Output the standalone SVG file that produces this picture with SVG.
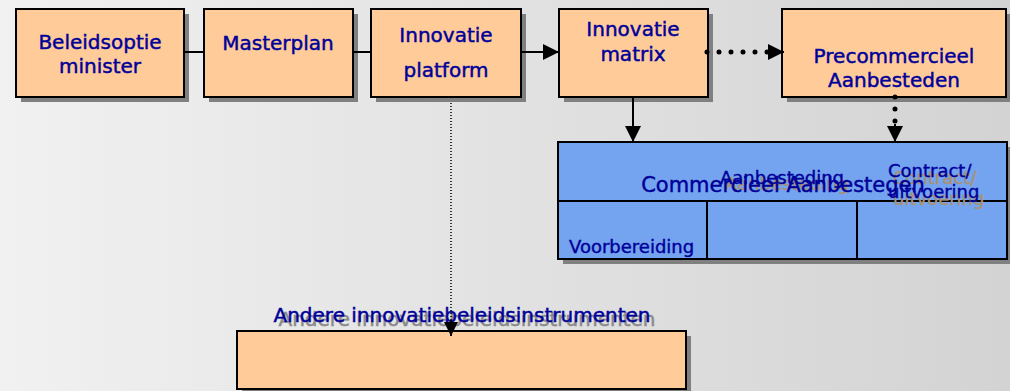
<svg xmlns="http://www.w3.org/2000/svg" width="1010" height="391" viewBox="0 0 1010 391">
<defs>
<linearGradient id="bg" x1="0" y1="0" x2="1" y2="0">
<stop offset="0" stop-color="#f1f1f1"/>
<stop offset="1" stop-color="#d3d3d3"/>
</linearGradient>
<marker id="ah" markerUnits="userSpaceOnUse" markerWidth="18" markerHeight="16" refX="16" refY="8" orient="auto">
<path d="M0,0 L16,8 L0,16 Z" fill="#000"/>
</marker>
<marker id="ahs" markerUnits="userSpaceOnUse" markerWidth="16" markerHeight="14" refX="14" refY="7" orient="auto">
<path d="M0,0 L14,7 L0,14 Z" fill="#000"/>
</marker>
</defs>
<style>
.shadow{fill:#808080}
.box{fill:#ffcc99;stroke:#000;stroke-width:2}
.blue{fill:#74a4f0;stroke:#000;stroke-width:2}
.t{font-family:"DejaVu Sans",Verdana,sans-serif;font-size:20px;fill:#000099;stroke:#000099;stroke-width:0.45;text-anchor:middle}
.s{font-family:"DejaVu Sans",Verdana,sans-serif;font-size:18px;fill:#000099;stroke:#000099;stroke-width:0.4}
.sh{fill:#a89274;stroke:#a89274}
.g{fill:#8a8a8a;stroke:#8a8a8a}
.conn{stroke:#000;stroke-width:2;fill:none}
.dots{stroke:#000;stroke-width:5;stroke-linecap:round;stroke-dasharray:0 12;fill:none}
.fine{stroke:#000;stroke-width:1.5;stroke-dasharray:1 2;fill:none}
</style>
<rect width="1010" height="391" fill="url(#bg)"/>

<g id="n1">
<rect class="shadow" x="21" y="14" width="168" height="88"/>
<rect class="box" x="16" y="9" width="168" height="88"/>
<text class="t" x="100" y="49">Beleidsoptie</text>
<text class="t" x="100" y="73">minister</text>
</g>
<g id="n2">
<rect class="shadow" x="209" y="14" width="149" height="88"/>
<rect class="box" x="204" y="9" width="149" height="88"/>
<text class="t" x="278" y="50">Masterplan</text>
</g>
<g id="n3">
<rect class="shadow" x="376" y="14" width="150" height="88"/>
<rect class="box" x="371" y="9" width="150" height="88"/>
<text class="t" x="446" y="42">Innovatie</text>
<text class="t" x="446" y="77">platform</text>
</g>
<g id="n4">
<rect class="shadow" x="564" y="14" width="149" height="88"/>
<rect class="box" x="559" y="9" width="149" height="88"/>
<text class="t" x="633" y="36">Innovatie</text>
<text class="t" x="633" y="61">matrix</text>
</g>
<g id="n5">
<rect class="shadow" x="787" y="14" width="224" height="88"/>
<rect class="box" x="782" y="9" width="224" height="88"/>
<text class="t" x="894" y="63">Precommercieel</text>
<text class="t" x="894" y="87">Aanbesteden</text>
</g>

<g id="n6">
<rect class="shadow" x="563" y="147" width="449" height="117"/>
<rect class="blue" x="558" y="142" width="449" height="59"/>
<rect class="blue" x="558" y="201" width="149" height="58"/>
<rect class="blue" x="707" y="201" width="150" height="58"/>
<rect class="blue" x="857" y="201" width="150" height="58"/>
<text class="s sh" x="725" y="190">Aanbesteding</text>
<text class="s sh" x="893" y="184">Contract/</text>
<text class="s sh" x="893" y="205">uitvoering</text>
<text class="t" x="783" y="192" style="font-size:21px">Commercieel Aanbestegen</text>
<text class="s" x="720" y="184">Aanbesteding</text>
<text class="s" x="888" y="177">Contract/</text>
<text class="s" x="888" y="198">uitvoering</text>
<text class="s" x="569" y="253">Voorbereiding</text>
</g>

<g id="n7">
<rect class="shadow" x="242" y="336" width="449" height="58"/>
<rect class="box" x="237" y="331" width="449" height="58"/>
<text class="t g" x="467" y="326">Andere innovatiebeleidsinstrumenten</text>
<text class="t" x="462" y="322">Andere innovatiebeleidsinstrumenten</text>
</g>

<g id="connectors">
<line class="conn" x1="185" y1="52" x2="203" y2="52"/>
<line class="conn" x1="354" y1="52" x2="370" y2="52"/>
<line class="conn" x1="522" y1="52" x2="559" y2="52" marker-end="url(#ah)"/>
<line class="dots" x1="707" y1="52" x2="768" y2="52"/>
<line class="conn" x1="768" y1="52" x2="784" y2="52" marker-end="url(#ah)"/>
<line class="conn" x1="633" y1="98" x2="633" y2="142" marker-end="url(#ah)"/>
<line class="dots" x1="895" y1="97" x2="895" y2="124"/>
<line class="conn" x1="895" y1="124" x2="895" y2="142" marker-end="url(#ah)"/>
<line class="fine" x1="451" y1="103" x2="451" y2="325"/>
<line class="conn" x1="451" y1="320" x2="451" y2="336" marker-end="url(#ahs)"/>
</g>
</svg>
